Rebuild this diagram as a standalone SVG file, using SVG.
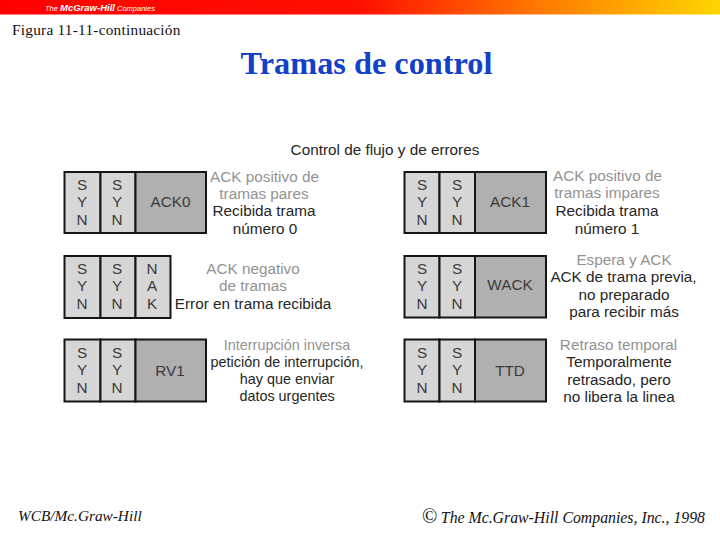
<svg xmlns="http://www.w3.org/2000/svg" width="720" height="540" viewBox="0 0 720 540">
<style>
.s{font-family:"Liberation Sans",Arial,sans-serif;font-size:15.3px;text-anchor:middle;fill:#3a3a3a}
.g{fill:#929292}
.k{fill:#262626}
.n{font-size:14.4px}
.c{fill:#d6d6d6;stroke:#151515;stroke-width:2}
.d{fill:#b0b0b0;stroke:#151515;stroke-width:2}
.f{font-family:"Liberation Serif","Times New Roman",serif;fill:#111}
</style>
<defs>
<linearGradient id="bar" x1="0" x2="1" y1="0" y2="0">
<stop offset="0" stop-color="#ff0000"/><stop offset="0.5" stop-color="#ff1000"/><stop offset="0.75" stop-color="#ff7a00"/><stop offset="1" stop-color="#ffd500"/>
</linearGradient>
<g id="syn"><text x="0" y="0" class="s">S</text><text x="0" y="17.3" class="s">Y</text><text x="0" y="34.6" class="s">N</text></g>
</defs>
<rect width="720" height="540" fill="#fff"/>
<g id="header">
<rect width="720" height="14.5" fill="url(#bar)"/>
<text x="45" y="11" font-family="Liberation Sans,sans-serif" font-size="7.5" font-style="italic" fill="#fff">The <tspan font-weight="bold" font-size="9.5">McGraw-Hill</tspan> Companies</text>
</g>
<text x="12" y="35" class="f" font-size="15.3" letter-spacing="0.25">Figura 11-11-continuación</text>
<text x="366.500" y="74" text-anchor="middle" font-family="Liberation Serif,serif" font-weight="bold" font-size="32.3" fill="#1240c8">Tramas de control</text>
<text x="385" y="155" class="s k">Control de flujo y de errores</text>
<g id="f-ack0">
<rect class="c" x="64.500" y="172" width="36" height="61"/><rect class="c" x="100.500" y="172" width="35" height="61"/><rect class="d" x="135.500" y="172" width="70.500" height="61"/>
<use href="#syn" x="82" y="190"/><use href="#syn" x="117" y="190"/><text x="170.500" y="207" class="s">ACK0</text>
<text x="264.500" y="182" class="s g">ACK positivo de</text><text x="264" y="199" class="s g">tramas pares</text><text x="264" y="216" class="s k">Recibida trama</text><text x="265" y="234" class="s k">número 0</text>
</g>
<g id="f-nak">
<rect class="c" x="64.500" y="256" width="36" height="62"/><rect class="c" x="100.500" y="256" width="35" height="62"/><rect class="c" x="135.500" y="256" width="35" height="62"/>
<use href="#syn" x="82" y="274"/><use href="#syn" x="117" y="274"/><text x="152" y="274" class="s">N</text><text x="152" y="291.300" class="s">A</text><text x="152" y="308.600" class="s">K</text>
<text x="253" y="274" class="s g">ACK negativo</text><text x="253" y="291" class="s g">de tramas</text><text x="253" y="309" class="s k">Error en trama recibida</text>
</g>
<g id="f-rv1">
<rect class="c" x="64.500" y="339.500" width="36" height="62"/><rect class="c" x="100.500" y="339.500" width="35" height="62"/><rect class="d" x="135.500" y="339.500" width="70.500" height="62"/>
<use href="#syn" x="82" y="358"/><use href="#syn" x="117" y="358"/><text x="170" y="376" class="s">RV1</text>
<text x="287" y="350" class="s g n">Interrupción inversa</text><text x="287" y="367" class="s k n">petición de interrupción,</text><text x="287" y="384" class="s k n">hay que enviar</text><text x="287" y="401" class="s k n">datos urgentes</text>
</g>
<g id="f-ack1">
<rect class="c" x="404.500" y="172" width="35" height="61"/><rect class="c" x="439.500" y="172" width="35.500" height="61"/><rect class="d" x="475" y="172" width="71" height="61"/>
<use href="#syn" x="422" y="190"/><use href="#syn" x="457" y="190"/><text x="510" y="207" class="s">ACK1</text>
<text x="607.500" y="181" class="s g">ACK positivo de</text><text x="607" y="198" class="s g">tramas impares</text><text x="607" y="216" class="s k">Recibida trama</text><text x="607" y="234" class="s k">número 1</text>
</g>
<g id="f-wack">
<rect class="c" x="404.500" y="256" width="35" height="61.500"/><rect class="c" x="439.500" y="256" width="35.500" height="61.500"/><rect class="d" x="475" y="256" width="71" height="61.500"/>
<use href="#syn" x="422" y="274"/><use href="#syn" x="457" y="274"/><text x="510" y="290" class="s">WACK</text>
<text x="624" y="265" class="s g">Espera y ACK</text><text x="623.500" y="282" class="s k">ACK de trama previa,</text><text x="624" y="300" class="s k">no preparado</text><text x="624" y="317" class="s k">para recibir más</text>
</g>
<g id="f-ttd">
<rect class="c" x="404.500" y="339.500" width="35" height="62"/><rect class="c" x="439.500" y="339.500" width="35.500" height="62"/><rect class="d" x="475" y="339.500" width="71" height="62"/>
<use href="#syn" x="422" y="358"/><use href="#syn" x="457" y="358"/><text x="510" y="376" class="s">TTD</text>
<text x="618.500" y="350" class="s g">Retraso temporal</text><text x="619" y="367" class="s k">Temporalmente</text><text x="619" y="385" class="s k">retrasado, pero</text><text x="619" y="402" class="s k">no libera la linea</text>
</g>
<text x="18" y="521" class="f" font-size="15.300" font-style="italic">WCB/Mc.Graw-Hill</text>
<text x="705" y="523" class="f" font-size="15.800" font-style="italic" text-anchor="end"><tspan font-size="20">©</tspan> The Mc.Graw-Hill Companies, Inc., 1998</text>
</svg>
